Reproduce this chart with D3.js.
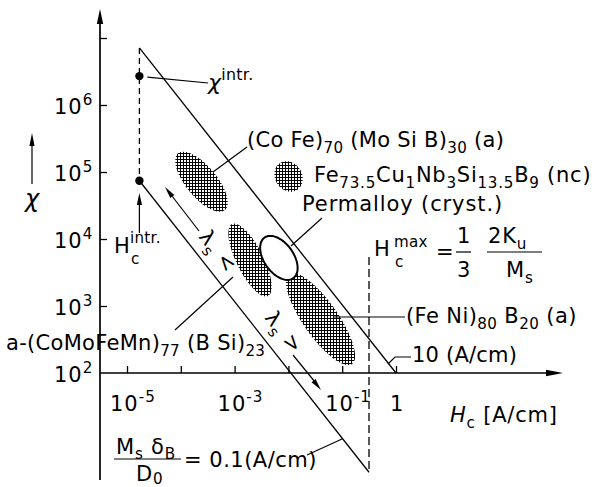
<!DOCTYPE html>
<html>
<head>
<meta charset="utf-8">
<script src="https://cdn.jsdelivr.net/npm/d3@7/dist/d3.min.js"></script>
<style>
  html, body { margin: 0; padding: 0; background: #fff; }
  svg { display: block; }
  text { font-family: "DejaVu Sans", sans-serif; fill: #000; }
</style>
</head>
<body>
<svg id="chart" width="599" height="487"></svg>
<script>
// ---- data -------------------------------------------------------------
const xTickValues = [1e-5, 1e-4, 1e-3, 1e-2, 1e-1, 1];
const xLabelValues = [1e-5, 1e-3, 1e-1, 1];
const xLabelExps = ["-5", "-3", "-1", null];          // null -> plain "1"
const yTickValues = [1e3, 1e4, 1e5, 1e6, 1e7];
const yLabelValues = [1e2, 1e3, 1e4, 1e5, 1e6];
const yLabelExps = ["2", "3", "4", "5", "6"];

// intrinsic limits (coercivity / permeability)
const hcIntr = 1.7e-5;
const chiIntr = 2.7e6;
const chiAtHcIntr = 7.4e4;
const hcMax = 0.315;
const hcMaxChiRange = [5.4e3, 3.3];

// constant  Ms*deltaB/D0  lines: end points (Hc, chi)
const limitLineNames = ["10 (A/cm)", "0.1 (A/cm)"];
const limitLineHc = [[1.7e-5, 1], [1.7e-5, 0.315]];
const limitLineChi = [[7.1e6, 100], [7.4e4, 3.3]];

// material regions: major-axis end points (Hc, chi) and half-width in decades
const regionNames = ["(CoFe)70(MoSiB)30 (a)", "Fe73.5Cu1Nb3Si13.5B9 (nc)",
                     "a-(CoMoFeMn)77(BSi)23", "(FeNi)80B20 (a)", "Permalloy (cryst.)"];
const regionHc = [[8.9e-5, 6.6e-4], [7.0e-3, 1.45e-2], [8.95e-4, 4.18e-3],
                  [1.03e-2, 0.152], [3.6e-3, 1.23e-2]];
const regionChi = [[1.9e5, 2.7e4], [1.36e5, 5.4e4], [1.67e4, 1.41e3],
                   [3.0e3, 136], [1.05e4, 2.6e3]];
const regionHalfWidth = [0.23, 0.2, 0.2, 0.26, 0.22];
const regionHatched = [true, true, true, true, false];

// ---- scales -----------------------------------------------------------
const svg = d3.select("#chart");
const x = d3.scaleLog().domain([1e-5, 1]).range([127, 396]);
const y = d3.scaleLog().domain([1e2, 1e7]).range([373, 38]);
const decadePx = y(1e2) - y(1e3);
const X0 = 100, Y0 = y(1e2);

const FS = 21;
const SUB = 0.72;

// hatch mesh, aligned with the page grid
const defs = svg.append("defs");
const pat = defs.append("pattern").attr("id", "mesh")
  .attr("patternUnits", "userSpaceOnUse").attr("width", 3).attr("height", 3);
pat.append("rect").attr("width", 3).attr("height", 3).attr("fill", "#fff");
pat.append("rect").attr("width", 3).attr("height", 1).attr("fill", "#000");
pat.append("rect").attr("width", 1).attr("height", 3).attr("fill", "#000");

// ---- helpers ----------------------------------------------------------
function arrowHead(g, tx, ty, ang, len = 13, half = 3.2) {
  const c = Math.cos(ang), s = Math.sin(ang);
  const bx = tx - len * c, by = ty - len * s;
  g.append("path")
    .attr("d", `M${tx},${ty}L${bx - half * s},${by + half * c}L${bx + half * s},${by - half * c}Z`)
    .attr("fill", "#000");
}

// text with sub/superscripts: parts = [[text, ""|"sub"|"sup"], ...]
function rich(g, tx, ty, parts, size = FS, opts = {}) {
  const t = g.append("text").attr("x", tx).attr("y", ty)
    .attr("font-size", size)
    .attr("letter-spacing", opts.ls != null ? opts.ls : 0.8);
  if (opts.anchor) t.attr("text-anchor", opts.anchor);
  if (opts.rotate != null) t.attr("transform", `rotate(${opts.rotate},${tx},${ty})`);
  let cur = 0;
  const subShift = opts.subShift != null ? opts.subShift : 0.3;
  parts.forEach(([txt, kind]) => {
    const off = kind === "sub" ? subShift * size : kind === "sup" ? -0.45 * size : 0;
    const ts = t.append("tspan").attr("dy", off - cur).text(txt);
    if (kind) ts.attr("font-size", size * SUB);
    if (opts.italic && opts.italic.includes(txt)) ts.attr("font-style", "italic");
    cur = off;
  });
  return t;
}

const line = (g, pts, w = 1.3, dash = null) => {
  const p = g.append("path").attr("d", d3.line()(pts))
    .attr("fill", "none").attr("stroke", "#000").attr("stroke-width", w);
  if (dash) p.attr("stroke-dasharray", dash);
  return p;
};

// ---- axes -------------------------------------------------------------
const axes = svg.append("g");
line(axes, [[X0, 480], [X0, 18]], 1.7);
arrowHead(axes, X0, 9, -Math.PI / 2, 15, 3.2);
line(axes, [[X0, Y0], [552, Y0]], 1.7);
arrowHead(axes, 563, Y0, 0, 17, 3.2);

const yAxis = axes.append("g").attr("transform", `translate(${X0},0)`)
  .call(d3.axisRight(y).tickValues(yTickValues).tickSize(7).tickFormat(""));
const xAxis = axes.append("g").attr("transform", `translate(0,${Y0})`)
  .call(d3.axisTop(x).tickValues(xTickValues).tickSize(7).tickFormat(""));
[yAxis, xAxis].forEach(a => {
  a.select(".domain").remove();
  a.selectAll(".tick line").attr("stroke", "#000").attr("stroke-width", 1.3);
});

yLabelValues.forEach((v, i) => {
  rich(axes, 54, y(v) + 9, [["10", ""], [yLabelExps[i], "sup"]], FS, { ls: 1 });
});
xLabelValues.forEach((v, i) => {
  if (xLabelExps[i] === null) {
    rich(axes, x(v) + 1, Y0 + 38, [["1", ""]], FS, { anchor: "middle" });
  } else {
    rich(axes, x(v) - 17, Y0 + 38, [["10", ""], [xLabelExps[i], "sup"]], FS, { ls: 1 });
  }
});

// axis titles
rich(axes, 450, 422, [["H", ""], ["c", "sub"], [" [A/cm]", ""]], FS, { italic: ["H"] });
axes.append("text").attr("x", 32).attr("y", 207).attr("text-anchor", "middle")
  .attr("font-size", 24).attr("font-style", "italic").text("χ");
line(axes, [[32, 184], [32, 145]], 1.2);
arrowHead(axes, 32, 133, -Math.PI / 2, 13, 2.6);

// ---- regions ----------------------------------------------------------
const regions = svg.append("g");
regionNames.forEach((name, i) => {
  const p1 = [x(regionHc[i][0]), y(regionChi[i][0])];
  const p2 = [x(regionHc[i][1]), y(regionChi[i][1])];
  const cx = (p1[0] + p2[0]) / 2, cy = (p1[1] + p2[1]) / 2;
  const a = Math.hypot(p2[0] - p1[0], p2[1] - p1[1]) / 2;
  const b = regionHalfWidth[i] * decadePx;
  const ang = Math.atan2(p2[1] - p1[1], p2[0] - p1[0]);
  const pts = d3.range(0, 72).map(k => {
    const t = k / 72 * 2 * Math.PI;
    const u = a * Math.cos(t), v = b * Math.sin(t);
    return [cx + u * Math.cos(ang) - v * Math.sin(ang), cy + u * Math.sin(ang) + v * Math.cos(ang)];
  });
  const e = regions.append("path").attr("d", d3.line().curve(d3.curveLinearClosed)(pts));
  if (regionHatched[i]) e.attr("fill", "url(#mesh)");
  else e.attr("fill", "#fff").attr("stroke", "#000").attr("stroke-width", 2);
});

// ---- limit lines ------------------------------------------------------
const lines = svg.append("g");
limitLineNames.forEach((n, i) => {
  line(lines, [[x(limitLineHc[i][0]), y(limitLineChi[i][0])],
               [x(limitLineHc[i][1]), y(limitLineChi[i][1])]], 1.3);
});
// intrinsic coercivity (dashed) and Hc max (dashed)
line(lines, [[x(hcIntr), y(limitLineChi[0][0])], [x(hcIntr), y(chiAtHcIntr)]], 1.3, "6,4");
line(lines, [[x(hcMax), y(hcMaxChiRange[0])], [x(hcMax), y(hcMaxChiRange[1])]], 1.3, "8,4");

// intrinsic points
[chiIntr, chiAtHcIntr].forEach(c => {
  lines.append("circle").attr("cx", x(hcIntr)).attr("cy", y(c)).attr("r", 4.2).attr("fill", "#000");
});

// ---- annotations ------------------------------------------------------
const ann = svg.append("g");
// chi intr
line(ann, [[x(hcIntr) + 8, y(chiIntr) + 1], [208, 83]], 1.2);
rich(ann, 208, 90, [["χ", ""], ["intr.", "sup"]], 22, { italic: ["χ"], ls: 0.3 });
// Hc intr
line(ann, [[x(hcIntr), 233], [x(hcIntr), 204]], 1.2);
arrowHead(ann, x(hcIntr), 193, -Math.PI / 2, 12, 2.6);
rich(ann, 114, 253, [["H", ""]], FS);
rich(ann, 130, 243, [["intr.", ""]], FS * SUB, { ls: 0.3 });
rich(ann, 131, 264, [["c", ""]], FS * SUB);

// material labels
line(ann, [[213, 172], [247, 147]], 1.2);
rich(ann, 247, 147, [["(Co Fe)", ""], ["70", "sub"], [" (Mo Si B)", ""], ["30", "sub"], [" (a)", ""]], FS, { ls: 0.3 });
rich(ann, 314, 182, [["Fe", ""], ["73.5", "sub"], ["Cu", ""], ["1", "sub"], ["Nb", ""], ["3", "sub"],
                     ["Si", ""], ["13.5", "sub"], ["B", ""], ["9", "sub"], [" (nc)", ""]], FS, { ls: 0.75 });
rich(ann, 302, 211, [["Permalloy (cryst.)", ""]], FS, { ls: 0.9 });
line(ann, [[322, 218], [291, 246]], 1.2);

line(ann, [[175, 330], [233, 277]], 1.2);
rich(ann, 6, 350, [["a-(CoMoFeMn)", ""], ["77", "sub"], [" (B Si)", ""], ["23", "sub"]], FS, { ls: 0.3 });

line(ann, [[333, 317], [405, 317]], 1.2);
rich(ann, 406, 323, [["(Fe Ni)", ""], ["80", "sub"], [" B", ""], ["20", "sub"], [" (a)", ""]], FS, { ls: 0.4 });

line(ann, [[388, 364], [395, 357], [411, 357]], 1.2);
rich(ann, 412, 362, [["10 (A/cm)", ""]], FS, { ls: 0.2 });

// lambda_s arrows
line(ann, [[199, 231], [172, 196]], 1.2);
arrowHead(ann, 165, 187, Math.atan2(187 - 231, 165 - 199), 12, 2.6);
rich(ann, 198, 237, [["λ", ""], ["s", "sub"], [" <", ""]], FS, { rotate: 52, ls: 0.5 });

line(ann, [[293, 355], [315, 382]], 1.2);
arrowHead(ann, 321, 390, Math.atan2(390 - 355, 321 - 293), 12, 2.6);
rich(ann, 264, 318, [["λ", ""], ["s", "sub"], [" >", ""]], FS, { rotate: 52, ls: 0.5 });

// Hc max formula
rich(ann, 374, 256, [["H", ""]], FS);
rich(ann, 394, 247, [["max", ""]], FS * SUB, { ls: 0.3 });
rich(ann, 395, 267, [["c", ""]], FS * SUB);
rich(ann, 436, 259, [["=", ""]], FS);
rich(ann, 464, 243, [["1", ""]], FS, { anchor: "middle" });
line(ann, [[456, 252], [471, 252]], 1.2);
rich(ann, 464, 277, [["3", ""]], FS, { anchor: "middle" });
rich(ann, 488, 243, [["2K", ""], ["u", "sub"]], FS);
line(ann, [[487, 252], [542, 252]], 1.2);
rich(ann, 506, 277, [["M", ""], ["s", "sub"]], FS);

// Ms deltaB / D0 formula
rich(ann, 116, 454, [["M", ""], ["s", "sub"], [" δ", ""], ["B", "sub"]], FS, { subShift: 0.22 });
line(ann, [[114, 459], [181, 459]], 1.2);
rich(ann, 136, 481, [["D", ""], ["0", "sub"]], FS, { subShift: 0.12 });
rich(ann, 184, 467, [["= 0.1(A/cm)", ""]], FS, { ls: 0.5 });
line(ann, [[307, 455], [342, 439]], 1.2);
</script>
</body>
</html>
